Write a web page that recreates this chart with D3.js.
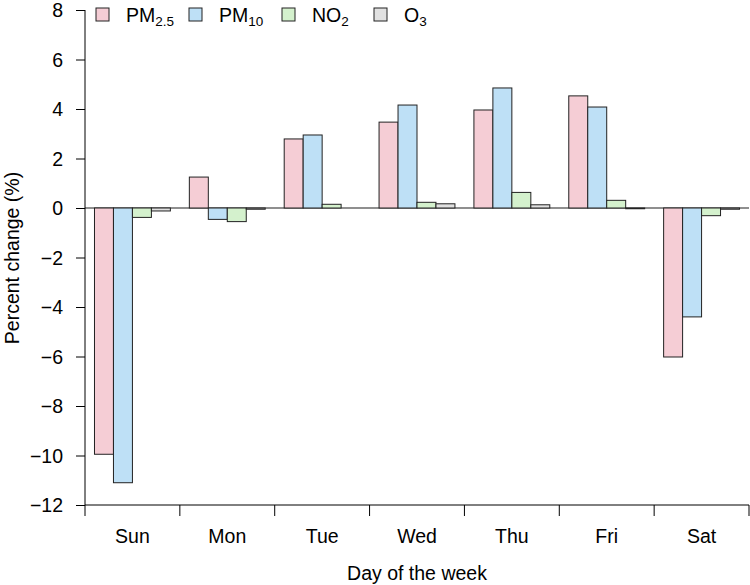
<!DOCTYPE html>
<html>
<head>
<meta charset="utf-8">
<script src="https://d3js.org/d3.v7.min.js"></script>
<style>
  body { margin: 0; background: #fff; }
  svg text { font-family: "Liberation Sans", Arial, Helvetica, sans-serif; fill: #000; }
</style>
</head>
<body>
<div id="chart"></div>
<script>
// data
var days = ["Sun", "Mon", "Tue", "Wed", "Thu", "Fri", "Sat"];
var pm25 = [-9.95, 1.25, 2.79, 3.47, 3.96, 4.53, -6.02];
var pm10 = [-11.1, -0.46, 2.95, 4.16, 4.85, 4.08, -4.4];
var no2 = [-0.38, -0.55, 0.15, 0.23, 0.63, 0.31, -0.31];
var o3 = [-0.12, -0.05, 0.0, 0.17, 0.13, -0.03, -0.05];
var seriesNames = ["PM2.5", "PM10", "NO2", "O3"];
var yTicks = [-12, -10, -8, -6, -4, -2, 0, 2, 4, 6, 8];

var colors = ["#f5cdd5", "#bee0f6", "#d4f1cd", "#e1e1e1"];
var allSeries = [pm25, pm10, no2, o3];

var svgWidth = 750, svgHeight = 585;
var fs = 19.5;

var svg = d3.select("#chart")
  .append("svg")
  .attr("width", svgWidth)
  .attr("height", svgHeight);

// scales
var x0 = d3.scaleBand()
  .domain(days)
  .range([85, 749])
  .paddingInner(0.2)
  .paddingOuter(0.1);

var x1 = d3.scaleBand()
  .domain(d3.range(seriesNames.length))
  .range([0, x0.bandwidth()]);

var y = d3.scaleLinear()
  .domain([-12, 8])
  .range([505, 10]);

// zero line
svg.append("line")
  .attr("x1", 85).attr("x2", 749)
  .attr("y1", y(0)).attr("y2", y(0))
  .attr("stroke", "#6a6a6a")
  .attr("stroke-width", 1.6);

// bars
var rows = days.map(function(d, i) {
  return { day: d, vals: allSeries.map(function(s) { return s[i]; }) };
});

var groups = svg.selectAll(".day")
  .data(rows)
  .enter()
  .append("g")
  .attr("transform", d => `translate(${x0(d.day)},0)`);

groups.selectAll("rect")
  .data(d => d.vals.map((v, k) => ({ k: k, v: v })))
  .enter()
  .append("rect")
  .attr("x", d => x1(d.k))
  .attr("width", x1.bandwidth())
  .attr("y", d => y(Math.max(0, d.v)))
  .attr("height", d => Math.abs(y(d.v) - y(0)))
  .attr("fill", d => colors[d.k])
  .attr("stroke", "#222")
  .attr("stroke-width", 1);

// y axis
var yAxis = svg.append("g")
  .attr("transform", "translate(85,0)")
  .call(d3.axisLeft(y).tickValues(yTicks).tickSize(9).tickPadding(13)
    .tickFormat(d => d < 0 ? "\u2212" + Math.abs(d) : d));
yAxis.select(".domain").attr("d", "M0,10V505");
yAxis.selectAll("text").attr("font-size", fs).attr("dy", "0.35em");

// x axis: line with ticks at group boundaries, labels centred
var step = x0.step();
var boundaries = d3.range(days.length + 1).map(i => 85 + i * step);

svg.append("line")
  .attr("x1", 85).attr("x2", 749)
  .attr("y1", 505).attr("y2", 505)
  .attr("stroke", "#000");

svg.selectAll(".xtick")
  .data(boundaries)
  .enter()
  .append("line")
  .attr("x1", d => d).attr("x2", d => d)
  .attr("y1", 505).attr("y2", 516)
  .attr("stroke", "#000");

svg.selectAll(".xlab")
  .data(days)
  .enter()
  .append("text")
  .attr("x", d => x0(d) + x0.bandwidth() / 2)
  .attr("y", 543)
  .attr("text-anchor", "middle")
  .attr("font-size", fs)
  .text(d => d);

// axis titles
svg.append("text")
  .attr("x", 417)
  .attr("y", 580)
  .attr("text-anchor", "middle")
  .attr("font-size", fs)
  .text("Day of the week");

svg.append("text")
  .attr("transform", "translate(19,258) rotate(-90)")
  .attr("text-anchor", "middle")
  .attr("font-size", fs)
  .text("Percent change (%)");

// legend
var legendX = [96, 189, 282, 374];
var legend = svg.selectAll(".leg")
  .data(seriesNames)
  .enter()
  .append("g")
  .attr("transform", (d, i) => `translate(${legendX[i]},8)`);

legend.append("rect")
  .attr("width", 13).attr("height", 13)
  .attr("fill", (d, i) => colors[i])
  .attr("stroke", "#222");

var labels = legend.append("text")
  .attr("x", 30)
  .attr("y", 14)
  .attr("font-size", fs);

labels.each(function(d) {
  var t = d3.select(this);
  var base = d.slice(0, d.search(/[0-9]/));
  var sub = d.slice(base.length);
  t.append("tspan").text(base);
  t.append("tspan").attr("font-size", 13.5).attr("dy", 4).text(sub);
});
</script>
</body>
</html>
